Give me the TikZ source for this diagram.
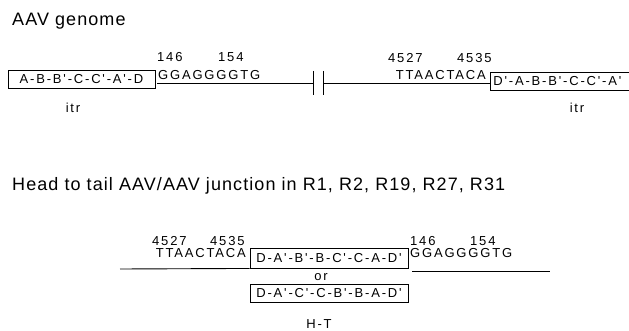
\documentclass[tikz,border=0pt]{standalone}
\usepackage{fontspec}
\setmainfont{Liberation Sans}
\newfontfamily\seqfont{Liberation Sans}[LetterSpace=14]
\newfontfamily\headfont{Liberation Sans}[LetterSpace=6]
\usetikzlibrary{positioning}

\begin{document}
\begin{tikzpicture}[
  x=1pt, y=-1pt,
  every node/.style={inner sep=0pt},
  title/.style={anchor=base west, font=\headfont\fontsize{18}{21}\selectfont},
  seq/.style={font=\seqfont\fontsize{13}{15}\selectfont},
  num/.style={seq, anchor=base west},
  itrbox/.style={draw, line width=0.9pt, minimum height=18pt, seq, inner xsep=3pt},
  dna/.style={line width=0.9pt}
]
\clip (0,0) rectangle (629,331);

% ゲノム全体
\node[title] (t1) at (12,26) {AAV genome};

\node[itrbox, minimum width=147pt] (itrL) at (81.5,79) {A-B-B'-C-C'-A'-D};
\node[seq] (itrLlab) at (73,108) {itr};
\node[num] (n146) at (157,62) {146};
\node[num] (n154) at (218,62) {154};
\node[num] (sL) at (158,80) {GGAGGGGTG};

\coordinate (gL) at (157,83);
\coordinate (cutL) at (313,83);
\coordinate (cutR) at (323,83);
\draw[dna] (gL) -- (cutL);
\draw[dna] ([yshift=12pt]cutL) -- ([yshift=-12pt]cutL);
\draw[dna] ([yshift=12pt]cutR) -- ([yshift=-12pt]cutR);

\node[itrbox, anchor=west, text width=144pt, align=left] (itrR) at (490,81) {D'-A-B-B'-C-C'-A'};
\draw[dna] (cutR) -- (itrR.west |- cutR);
\node[seq] (itrRlab) at (577,108) {itr};
\node[num] (n4527) at (388,63) {4527};
\node[num] (n4535) at (457,63) {4535};
\node[seq, anchor=base east] (sR) at (486,80) {TTAACTACA};

% 頭尾結合部
\node[title] (t2) at (12,191) {Head to tail AAV/AAV junction in R1, R2, R19, R27, R31};

\node[itrbox, minimum width=158pt, minimum height=20pt] (jA) at (329,258) {D-A'-B'-B-C'-C-A-D'};
\node[seq] (or) at (321,277) {or};
\node[itrbox, minimum width=158pt] (jB) at (329,293) {D-A'-C'-C-B'-B-A-D'};
\node[seq] (ht) at (319,324) {H-T};

\node[num] (j4527) at (152,245) {4527};
\node[num] (j4535) at (210,245) {4535};
\node[seq, anchor=base east] (jsL) at (246,258) {TTAACTACA};
\node[num] (j146) at (410,245) {146};
\node[num] (j154) at (470,245) {154};
\node[num] (jsR) at (410,258) {GGAGGGGTG};

\coordinate (jl) at (120,269);
\coordinate (jr) at (550,271);
\draw[dna] (jl) -- (jA.south west);
\draw[dna] (jA.east |- jr) ++(4,0) -- (jr);
\end{tikzpicture}
\end{document}
